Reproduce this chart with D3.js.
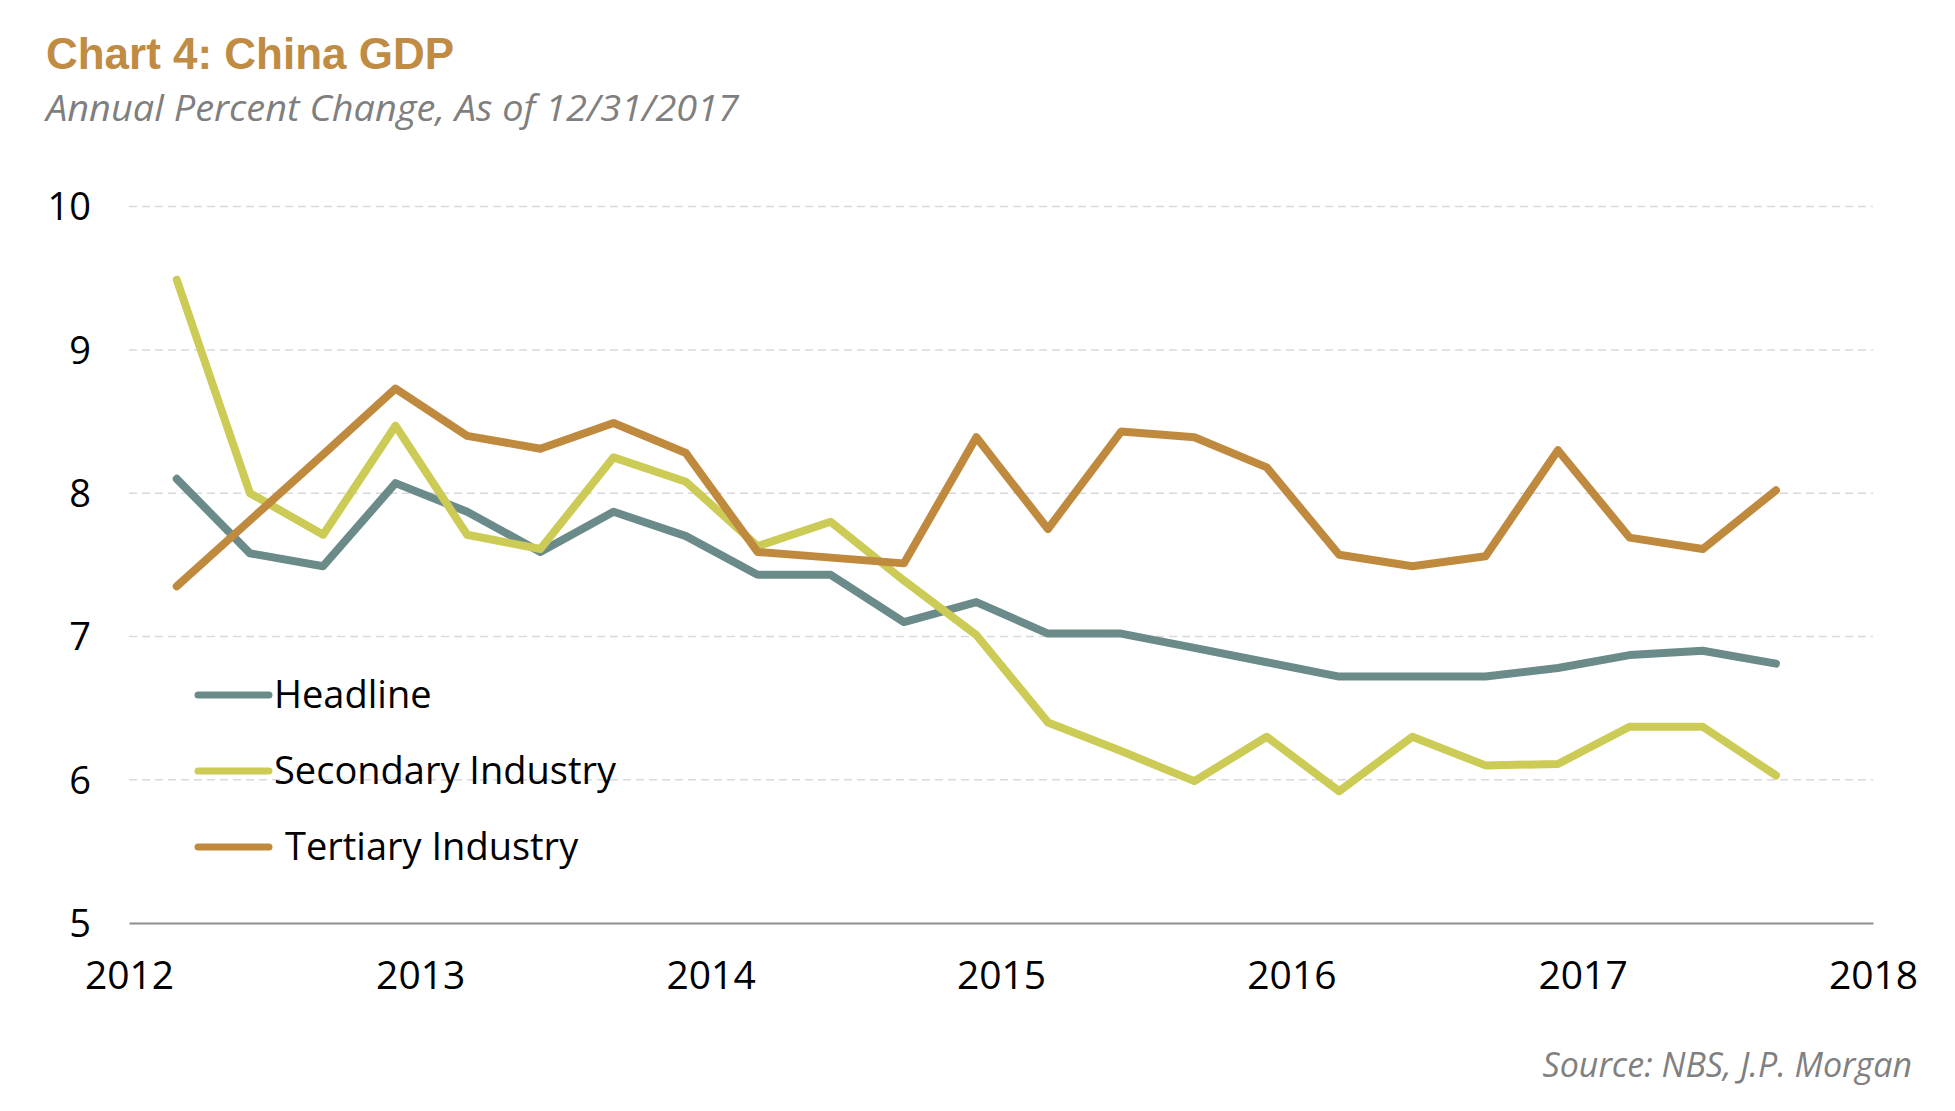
<!DOCTYPE html>
<html lang="en">
 <head>
 <meta http-equiv="Content-Type" content="text/html; charset=UTF-8">
        <title>Chart 4: China GDP</title>
        <script type="text/javascript" src="https://unpkg.com/d3@7/dist/d3.min.js"></script>
        <style>
          body { margin: 0; background: #fff; }
          text { font-family: "Open Sans", "Noto Sans", sans-serif; }
        </style>
 </head>

 <body>
        <script type="text/javascript">

          // quarterly points, Q1 2012 .. Q3 2017
          var dates = ["2012-03-01","2012-06-01","2012-09-01","2012-12-01",
                       "2013-03-01","2013-06-01","2013-09-01","2013-12-01",
                       "2014-03-01","2014-06-01","2014-09-01","2014-12-01",
                       "2015-03-01","2015-06-01","2015-09-01","2015-12-01",
                       "2016-03-01","2016-06-01","2016-09-01","2016-12-01",
                       "2017-03-01","2017-06-01","2017-09-01"];

          var headline  = [8.10, 7.58, 7.49, 8.07, 7.87, 7.59, 7.87, 7.70, 7.43, 7.43, 7.10, 7.24,
                           7.02, 7.02, 6.92, 6.82, 6.72, 6.72, 6.72, 6.78, 6.87, 6.90, 6.81];
          var secondary = [9.49, 8.00, 7.71, 8.47, 7.71, 7.61, 8.25, 8.08, 7.63, 7.80, 7.39, 7.01,
                           6.40, 6.20, 5.99, 6.30, 5.92, 6.30, 6.10, 6.11, 6.37, 6.37, 6.03];
          var tertiary  = [7.35, 7.81, 8.27, 8.73, 8.40, 8.31, 8.49, 8.28, 7.59, 7.55, 7.51, 8.39,
                           7.75, 8.43, 8.39, 8.18, 7.57, 7.49, 7.56, 8.30, 7.69, 7.61, 8.02];

          var seriesNames = ["Headline", "Secondary Industry", "Tertiary Industry"];
          var yTicks = [5, 6, 7, 8, 9, 10];
          var xTicks = ["2012","2013","2014","2015","2016","2017","2018"];

          var width = 1955, height = 1111;
          var parse = d3.timeParse("%Y-%m-%d");

          var svg = d3.select("body").append("svg")
                      .attr("width", width)
                      .attr("height", height);

          var x = d3.scaleTime()
                    .domain([new Date(2012, 0, 1), new Date(2018, 0, 1)])
                    .range([129, 1873]);

          var y = d3.scaleLinear()
                    .domain([5, 10])
                    .range([923, 206.6]);

          var color = d3.scaleOrdinal()
                        .domain(seriesNames)
                        .range(["#6b8b8b", "#cbcb55", "#c08a3e"]);

          // titles
          svg.append("text")
             .attr("x", 46).attr("y", 69)
             .attr("textLength", 408).attr("lengthAdjust", "spacingAndGlyphs")
             .style("font-family", "'Liberation Sans', Arial, sans-serif")
             .style("font-weight", "bold")
             .style("font-size", "44px")
             .style("fill", "#c08b42")
             .text("Chart 4: China GDP");

          svg.append("text")
             .attr("x", 46).attr("y", 121)
             .attr("textLength", 693).attr("lengthAdjust", "spacingAndGlyphs")
             .style("font-style", "italic")
             .style("font-size", "36px")
             .style("fill", "#7f7f7f")
             .text("Annual Percent Change, As of 12/31/2017");

          // gridlines
          svg.append("g")
             .selectAll("line")
             .data(yTicks.filter( (d) => d > 5 ))
             .enter()
             .append("line")
             .attr("x1", x.range()[0]).attr("x2", x.range()[1])
             .attr("y1", (d) => y(d)).attr("y2", (d) => y(d))
             .style("stroke", "#d9d9d9")
             .style("stroke-width", 1.5)
             .style("stroke-dasharray", "8,5");

          // y axis
          var yAxis = svg.append("g")
             .attr("transform", "translate(91,0)")
             .call(d3.axisLeft(y).tickValues(yTicks).tickFormat(d3.format("d"))
                     .tickSize(0).tickPadding(0));
          yAxis.select(".domain").remove();
          yAxis.selectAll("text")
               .style("font-size", "38px")
               .style("fill", "#000")
               .attr("dy", "0.35em");

          // x axis
          var xAxis = svg.append("g")
             .attr("transform", "translate(0," + y(5) + ")")
             .call(d3.axisBottom(x)
                     .tickValues(xTicks.map( (d) => new Date(+d, 0, 1) ))
                     .tickFormat(d3.timeFormat("%Y"))
                     .tickSize(0).tickPadding(38));
          xAxis.select(".domain")
               .style("stroke", "#8f8f8f")
               .style("stroke-width", 2);
          xAxis.selectAll("text")
               .style("font-size", "39px")
               .style("fill", "#000");

          // lines
          var seriesData = [headline, secondary, tertiary].map( (vals, i) => ({
            name: seriesNames[i],
            values: vals.map( (v, j) => ({ date: parse(dates[j]), value: v }) )
          }) );

          var line = d3.line()
                       .x( (d) => x(d.date) )
                       .y( (d) => y(d.value) );

          svg.append("g")
             .selectAll("path")
             .data(seriesData)
             .enter()
             .append("path")
             .attr("d", (d) => line(d.values))
             .style("fill", "none")
             .style("stroke", (d) => color(d.name))
             .style("stroke-width", 8)
             .style("stroke-linejoin", "round")
             .style("stroke-linecap", "round");

          // legend
          var legend = svg.append("g")
             .selectAll("g")
             .data(seriesNames)
             .enter()
             .append("g")
             .attr("transform", (d, i) => "translate(198," + (695 + i * 76) + ")");

          legend.append("line")
                .attr("x1", 0).attr("x2", 71)
                .attr("y1", 0).attr("y2", 0)
                .style("stroke", (d) => color(d))
                .style("stroke-width", 7)
                .style("stroke-linecap", "round");

          legend.append("text")
                .attr("x", (d, i) => i == 2 ? 87 : 76)
                .attr("y", 13)
                .style("font-size", "38px")
                .style("fill", "#000")
                .text( (d) => d );

          // source
          svg.append("text")
             .attr("x", 1912).attr("y", 1077)
             .attr("text-anchor", "end")
             .style("font-style", "italic")
             .style("font-size", "34px")
             .style("fill", "#808080")
             .text("Source: NBS, J.P. Morgan");

        </script>
    </body>
</html>
